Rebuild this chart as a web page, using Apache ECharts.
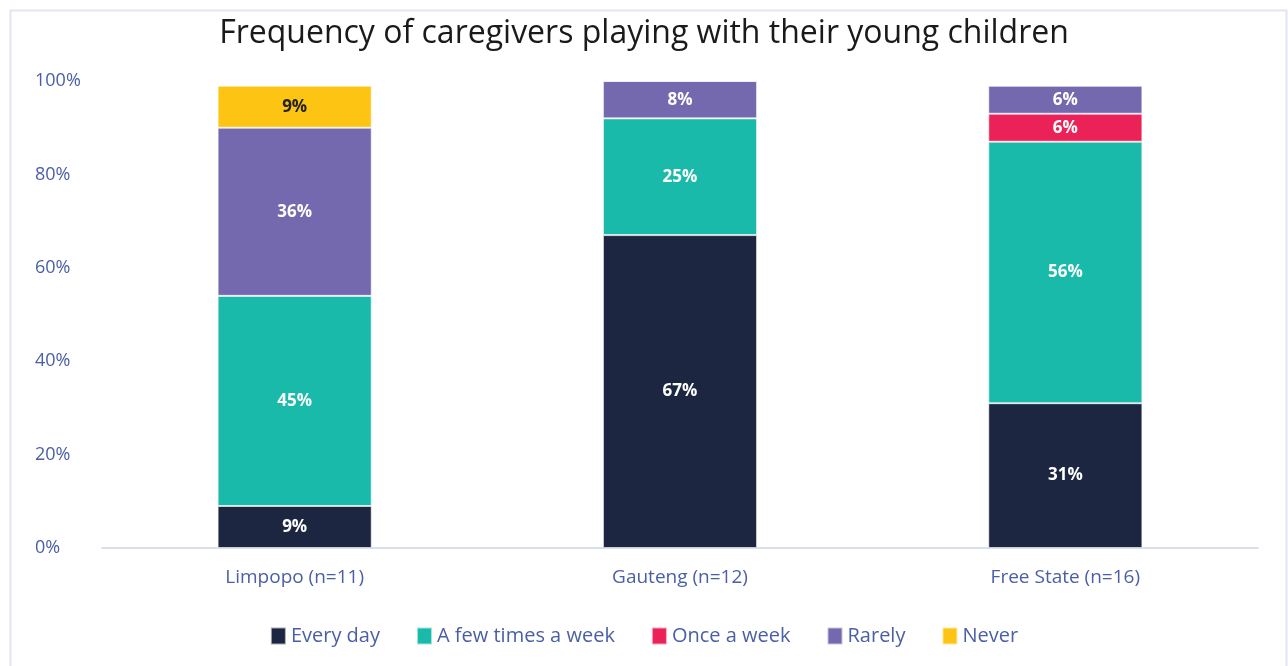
<!DOCTYPE html>
<html>
<head>
<meta charset="utf-8">
<script src="https://cdn.jsdelivr.net/npm/echarts@6/dist/echarts.min.js"></script>
<style>
  html, body { margin: 0; padding: 0; background: #fff; }
  #chart { width: 1288px; height: 666px; }
</style>
</head>
<body>
<div id="chart"></div>
<script>
// Provinces and sample sizes
const categories = ['Limpopo (n=11)', 'Gauteng (n=12)', 'Free State (n=16)'];

// Share of caregivers (%) by how often they play with their children
const everyDay      = [9, 67, 31];
const fewTimesWeek  = [45, 25, 56];
const onceWeek      = [0, 0, 6];
const rarely        = [36, 8, 6];
const never         = [9, 0, 0];

const yTicks = [0, 20, 40, 60, 80, 100];

const seriesDefs = [
  { name: 'Every day',          data: everyDay,     color: '#1d2640', text: '#ffffff' },
  { name: 'A few times a week', data: fewTimesWeek, color: '#1abaab', text: '#ffffff' },
  { name: 'Once a week',        data: onceWeek,     color: '#eb2257', text: '#ffffff' },
  { name: 'Rarely',             data: rarely,       color: '#7468ae', text: '#ffffff' },
  { name: 'Never',              data: never,        color: '#fdc414', text: '#222222' }
];

const FONT = '"Open Sans", "Noto Sans", sans-serif';

const chart = echarts.init(document.getElementById('chart'), null, { renderer: 'canvas' });

chart.setOption({
  animation: false,
  backgroundColor: '#ffffff',
  title: {
    text: 'Frequency of caregivers playing with their young children',
    left: 'center',
    top: 13,
    textStyle: { fontFamily: FONT, fontSize: 32, fontWeight: 'normal', color: '#1a1a1a' }
  },
  graphic: [{
    type: 'rect',
    left: 8, top: 8,
    shape: { width: 1276, height: 680 },
    style: { fill: 'none', stroke: '#e2e5f1', lineWidth: 2 },
    silent: true
  }],
  legend: {
    top: 621,
    left: 'center',
    itemWidth: 15,
    itemHeight: 17,
    itemGap: 36,
    icon: 'rect',
    textStyle: { fontFamily: FONT, fontSize: 20, color: '#4a5fa6' },
    data: seriesDefs.map(s => s.name)
  },
  grid: { left: 102, right: 30, top: 81, bottom: 118, containLabel: false },
  xAxis: {
    type: 'category',
    data: categories,
    axisLine: { lineStyle: { color: '#dcdfec', width: 2 } },
    axisTick: { show: false },
    axisLabel: { fontFamily: FONT, fontSize: 19, color: '#4a5fa6', margin: 20 }
  },
  yAxis: {
    type: 'value',
    min: yTicks[0],
    max: yTicks[yTicks.length - 1],
    interval: yTicks[1] - yTicks[0],
    splitLine: { show: false },
    axisLine: { show: false },
    axisTick: { show: false },
    axisLabel: {
      fontFamily: FONT, fontSize: 18, color: '#4a5fa6',
      align: 'left', margin: 67,
      formatter: v => v + '%'
    }
  },
  series: seriesDefs.map(s => ({
    name: s.name,
    type: 'bar',
    stack: 'total',
    barWidth: '40%',
    data: s.data,
    itemStyle: { color: s.color, borderColor: 'rgba(255,255,255,0.6)', borderWidth: 1 },
    label: {
      show: true,
      position: 'inside',
      fontFamily: FONT,
      fontSize: 17,
      fontWeight: 'bold',
      color: s.text,
      formatter: p => (p.value > 0 ? p.value + '%' : '')
    }
  }))
});
</script>
</body>
</html>
